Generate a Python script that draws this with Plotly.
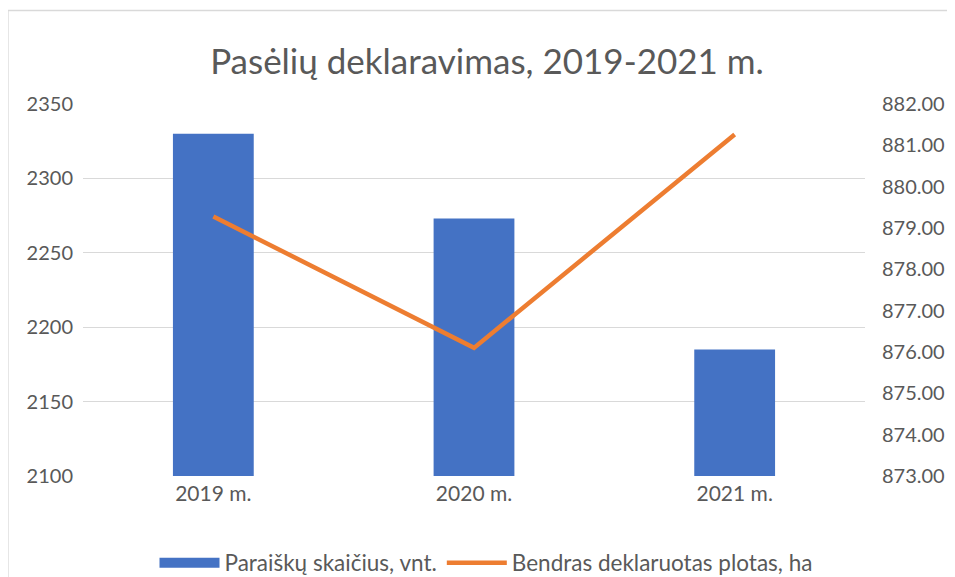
import plotly.graph_objects as go

categories = ["2019 m.", "2020 m.", "2021 m."]
applications = [2330, 2273, 2185]
area_ha = [879.28, 876.10, 881.26]
left_ticks = [2100, 2150, 2200, 2250, 2300, 2350]
right_ticks = [873, 874, 875, 876, 877, 878, 879, 880, 881, 882]

# page body has an 8px margin, so the figure is laid out 8px smaller
W, H = 947, 569
ml, mr, mt, mb = 75, 90, 96, 101
pw, ph = W - ml - mr, H - mt - mb

def px_x(p):
    return (p - ml) / pw

def px_y(p):
    return (H - mb - p) / ph

grey = "#595959"
blue = "#4472C4"
orange = "#ED7D31"
font = "Lato"

fig = go.Figure()
fig.add_trace(go.Bar(
    x=categories, y=applications, name="Paraiškų skaičius, vnt.",
    marker=dict(color=blue, line=dict(width=0)), yaxis="y", showlegend=False,
    legendrank=1,
))
# legend-only entry so the bar key is drawn as a wide rectangle
fig.add_trace(go.Scatter(
    x=[None], y=[None], name="Paraiškų skaičius, vnt.", mode="lines",
    line=dict(color=blue, width=14), yaxis="y", legendrank=1,
))
fig.add_trace(go.Scatter(
    x=categories, y=area_ha, name="Bendras deklaruotas plotas, ha",
    mode="lines", line=dict(color=orange, width=4.5), yaxis="y2", legendrank=2,
))

fig.update_layout(
    width=W, height=H,
    margin=dict(l=ml, r=mr, t=mt, b=mb, autoexpand=False),
    paper_bgcolor="white", plot_bgcolor="white",
    font=dict(family=font, color=grey, size=20),
    title=dict(text="Pasėlių deklaravimas, 2019-2021 m.", x=479 / W, xref="container",
               xanchor="center", y=1 - 54 / H, yref="container", yanchor="middle",
               font=dict(family=font, size=35, color=grey)),
    bargap=0.69,
    showlegend=True,
    legend=dict(orientation="h", x=478 / W, xref="container", xanchor="center",
                y=1 - 555 / H, yref="container", yanchor="middle",
                font=dict(size=22.5, color=grey), tracegroupgap=0, itemwidth=60),
    xaxis=dict(showgrid=False, showline=False, ticks="", tickfont=dict(size=21, color=grey),
               ticklabelstandoff=3),
    yaxis=dict(range=[2100, 2350], tickvals=left_ticks, showgrid=True, gridcolor="#D9D9D9",
               gridwidth=1.3, zeroline=False, showline=False, ticks="",
               tickfont=dict(size=20, color=grey), ticklabelstandoff=9),
    yaxis2=dict(range=[873, 882], tickvals=right_ticks, tickformat=".2f", overlaying="y",
                side="right", showgrid=False, zeroline=False, showline=False, ticks="",
                tickfont=dict(size=20, color=grey), ticklabelstandoff=16),
    shapes=[dict(type="rect", xref="paper", yref="paper",
                 x0=px_x(0), x1=px_x(960), y0=px_y(590), y1=px_y(2.5),
                 line=dict(color="#D9D9D9", width=1.3), fillcolor="rgba(0,0,0,0)", layer="below")],
)

fig.write_html("out.html")
